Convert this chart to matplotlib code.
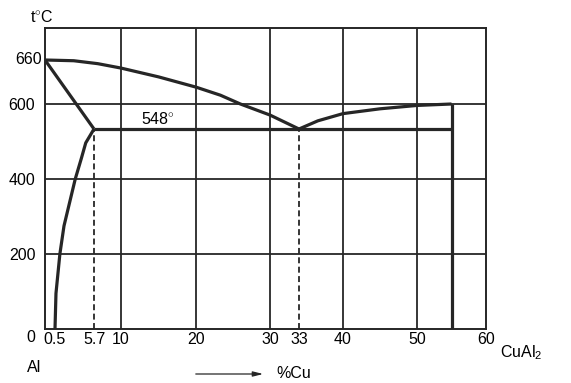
import numpy as np
import matplotlib
matplotlib.use("Agg")
import matplotlib.pyplot as plt

# ---------------- data ----------------
LIQ_AL_X = [0, 3, 6.3, 10, 15, 20, 23.3, 26, 30, 33]
LIQ_AL_Y = [660, 659, 655, 649, 637, 623, 612, 600, 577, 548]
LIQ_CU_X = [33, 36, 40, 45, 50, 55]
LIQ_CU_Y = [548, 565, 580, 590, 597, 600]
SOLIDUS_X = [0, 5.7]
SOLIDUS_Y = [660, 548]
SOLVUS_X = [0.5, 0.63, 1.15, 1.7, 3.2, 4.0, 4.6, 5.7]
SOLVUS_Y = [0, 95, 200, 275, 400, 460, 507, 548]
EUTECTIC_T = 548
EUTECTIC_X = 33
MAX_SOL = 5.7
CUAL2_X = 55
CUAL2_TOP = 600
AL_MELT = 660

XTICKS = [0.5, 5.7, 10, 20, 30, 33, 40, 50, 60]
XTICK_LABELS = ["0.5", "5.7", "10", "20", "30", "33", "40", "50", "60"]
YTICKS = [200, 400, 600]
YTICK_LABELS = ["200", "400", "600"]
GRID_X = [10, 20, 30, 40, 50]
GRID_Y = [200, 400, 600]
XLIM = (0, 60)
YLIM = (0, 700)

# ---------------- layout (hand-drawn, non-uniform axes) ----------------
W, H = 571, 383
XV = [0, 0.5, 5.7, 10, 20, 30, 33, 40, 50, 60]
XPX = np.array([45, 55, 94, 121, 196, 270, 299, 343, 417, 486], float)
YV = [0, 200, 400, 548, 600, 660, 700]
YPX = -np.array([329, 254, 179, 129, 104, 60, 28], float)

def fx(v):
    return np.interp(v, XV, XPX)

def ix(p):
    return np.interp(p, XPX, XV)

def fy(v):
    return np.interp(v, YV, YPX)

def iy(p):
    return np.interp(p, YPX, YV)

plt.rcParams["font.family"] = ["Liberation Sans", "DejaVu Sans"]
plt.rcParams["mathtext.fontset"] = "custom"
plt.rcParams["mathtext.rm"] = "Liberation Sans"
plt.rcParams["mathtext.it"] = "Liberation Sans:italic"
plt.rcParams["mathtext.bf"] = "Liberation Sans:bold"

FS = 11.5
INK = "#262626"
fig = plt.figure(figsize=(W / 100, H / 100), dpi=100)
ax = fig.add_axes([45 / W, 1 - 329 / H, (486 - 45) / W, (329 - 28) / H])
ax.set_xscale("function", functions=(fx, ix))
ax.set_yscale("function", functions=(fy, iy))
ax.set_xlim(*XLIM)
ax.set_ylim(*YLIM)

for s in ax.spines.values():
    s.set_linewidth(1.4)
    s.set_color(INK)

# grid
ax.vlines(GRID_X, YLIM[0], YLIM[1], colors=INK, linewidth=1.3, zorder=1)
ax.hlines(GRID_Y, XLIM[0], XLIM[1], colors=INK, linewidth=1.3, zorder=1)

# phase lines
plw = 2.3
kw = dict(color=INK, lw=plw, solid_joinstyle="round", solid_capstyle="butt", zorder=3)
ax.plot(LIQ_AL_X, LIQ_AL_Y, **kw)
ax.plot(LIQ_CU_X, LIQ_CU_Y, **kw)
ax.plot(SOLIDUS_X, SOLIDUS_Y, **kw)
ax.plot(SOLVUS_X, SOLVUS_Y, **kw)
ax.plot([MAX_SOL, CUAL2_X], [EUTECTIC_T, EUTECTIC_T], **kw)
ax.plot([CUAL2_X, CUAL2_X], [0, CUAL2_TOP], **kw)

# dashed verticals
ax.vlines([MAX_SOL, EUTECTIC_X], 0, EUTECTIC_T, colors=INK, linewidth=1.3,
          linestyles=[(0, (3.3, 1.9))], zorder=2)

# ticks
ax.set_xticks(XTICKS)
ax.set_xticklabels(XTICK_LABELS)
ax.set_yticks(YTICKS)
ax.set_yticklabels(YTICK_LABELS)
ax.tick_params(axis="x", length=0, pad=2, labelsize=FS, colors="black")
ax.tick_params(axis="y", length=0, pad=7, labelsize=FS, colors="black")
ax.minorticks_off()

ax.annotate("660", xy=(0, AL_MELT), xytext=(-2.5, 0), textcoords="offset points",
            ha="right", va="center", fontsize=FS)
ax.annotate("0", xy=(0, 0), xytext=(-10, -6), textcoords="offset points",
            ha="center", va="center", fontsize=FS)
ax.annotate("548$^{\\circ}$", xy=(MAX_SOL, EUTECTIC_T), xytext=(34, 7),
            textcoords="offset points", ha="left", va="center", fontsize=FS)

# outer texts
fig.text(42 / W, 1 - 17 / H, "t$^{\\circ}$C", ha="center", va="center", fontsize=FS)
fig.text(34 / W, 1 - 367 / H, "Al", ha="center", va="center", fontsize=FS)
fig.text(500 / W, 1 - 353 / H, "CuAl$_2$", ha="left", va="center", fontsize=FS)
fig.text(294 / W, 1 - 374 / H, "%Cu", ha="center", va="center", fontsize=FS)
fig.add_artist(matplotlib.patches.FancyArrowPatch(
    (193 / W, 1 - 374 / H), (266 / W, 1 - 374 / H), transform=fig.transFigure,
    arrowstyle="-|>,head_length=6,head_width=1.5", color=INK, lw=0.9,
    mutation_scale=1))

fig.savefig("out.png", dpi=100)
